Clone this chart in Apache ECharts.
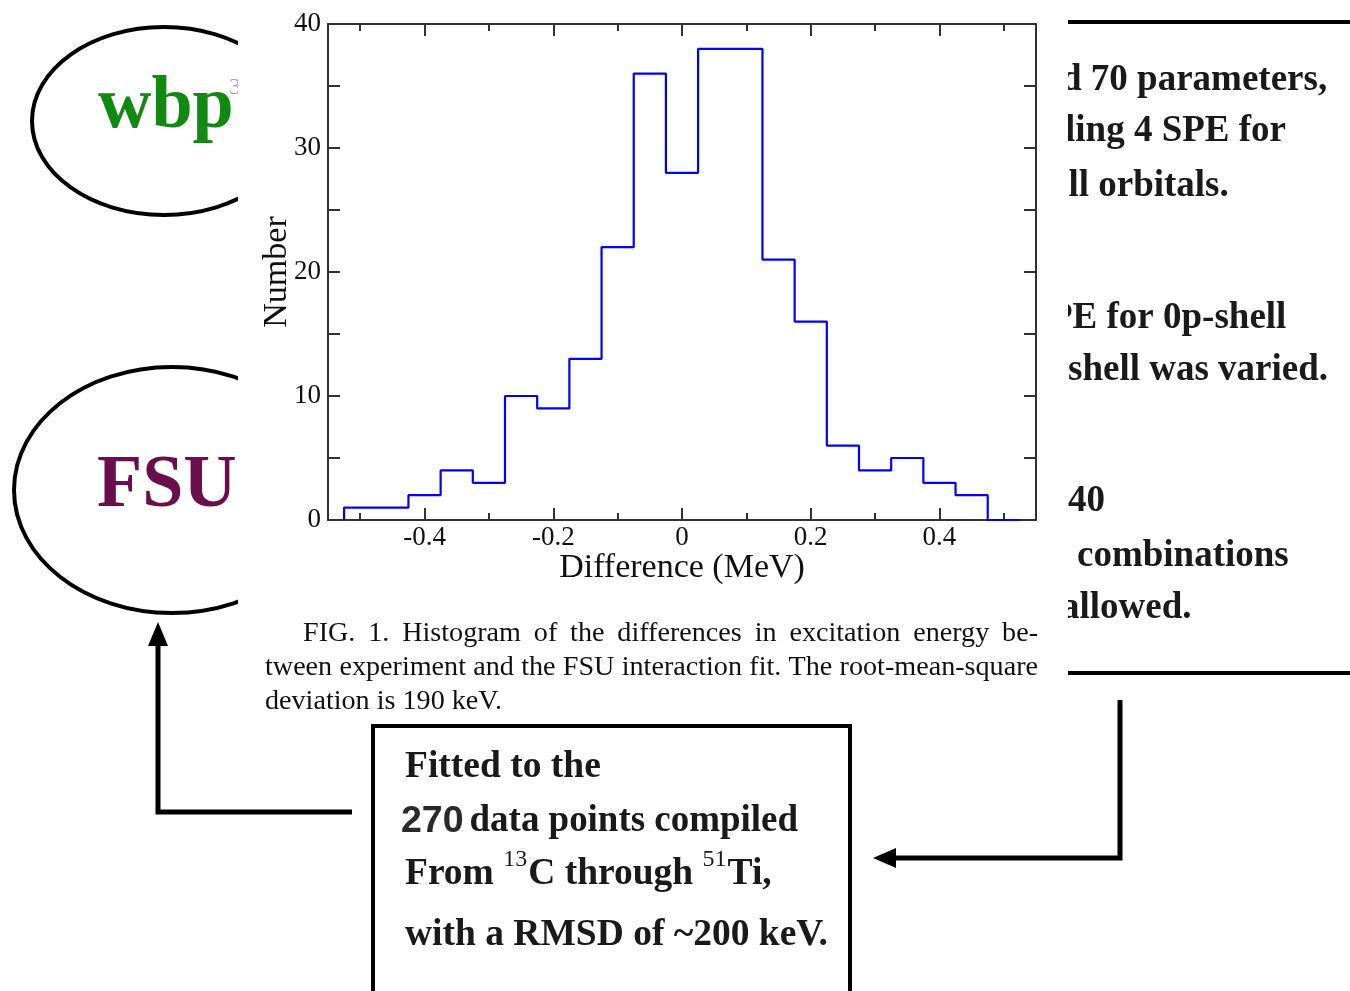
<!DOCTYPE html>
<html>
<head>
<meta charset="utf-8">
<script src="https://cdn.jsdelivr.net/npm/echarts@6/dist/echarts.min.js"></script>
<style>
html,body{margin:0;padding:0;background:#fff;}
#chart{width:1350px;height:991px;}
</style>
</head>
<body>
<div id="chart"></div>
<script>
// ---- data ----
const binLeftEdges = [-0.525,-0.475,-0.425,-0.375,-0.325,-0.275,-0.225,-0.175,-0.125,-0.075,-0.025,0.025,0.075,0.125,0.175,0.225,0.275,0.325,0.375,0.425,0.475];
const binCounts    = [1,1,2,4,3,10,9,13,22,36,28,38,38,21,16,6,4,5,3,2,0];
const lastBinRightEdge = 0.525;
const xMajorTicks = [-0.4,-0.2,0,0.2,0.4];
const xMinorTicks = [-0.5,-0.3,-0.1,0.1,0.3,0.5];
const xAxisName = 'Difference (MeV)';
const yAxisName = 'Number';
const captionLines = [
  'FIG. 1. Histogram of the differences in excitation energy be-',
  'tween experiment and the FSU interaction fit. The root-mean-square',
  'deviation is 190 keV.'
];
const rightTexts = ['d 70 parameters,','ling 4 SPE for','ell orbitals.','PE for 0p-shell','shell was varied.','40','combinations','allowed.'];

// ---- helpers ----
const SERIF = "'Liberation Serif','Times New Roman',serif";
const SANS = "'Liberation Sans',Arial,sans-serif";
const cv = document.createElement('canvas').getContext('2d');
function measure(text, weight, size, family){ cv.font = weight + ' ' + size + 'px ' + family; return cv.measureText(text).width; }
function txt(x, y, text, o){
  o = o || {};
  return {type:'text', x:x, y:y, z:o.z==null?10:o.z, scaleX:o.sx||1,
    style:{text:text, fontFamily:o.family||SERIF, fontSize:o.size||26, fontWeight:o.weight||'normal',
      fill:o.color||'#1a1a1a', align:'left', verticalAlign:'middle'}};
}

const graphics = [];
// left ellipses (behind figure)
graphics.push({type:'ellipse', z:-10, shape:{cx:164, cy:121, rx:132, ry:94}, style:{fill:'none', stroke:'#000', lineWidth:4}});
graphics.push({type:'ellipse', z:-10, shape:{cx:172, cy:490, rx:158, ry:123}, style:{fill:'none', stroke:'#000', lineWidth:4}});
graphics.push(txt(98, 108, 'wbp', {size:74, weight:'bold', color:'#128a12', z:-9}));
graphics.push(txt(229, 88, '3', {size:24, color:'#aaaaaa', z:-9}));
graphics.push(txt(97, 487, 'FSU', {size:74, weight:'bold', color:'#6b0f4c', z:-9}));
// right side text block
const rightX = [1061,1065,1052,1050,1068,1068,1077,1061];
const rightY = [80,131,186,318,370,501,556,608];
rightTexts.forEach((t,i)=>graphics.push(txt(rightX[i], rightY[i], t, {size:37, weight:'bold', z:-9})));
graphics.push({type:'line', z:-9, shape:{x1:1060,y1:22,x2:1350,y2:22}, style:{stroke:'#000', lineWidth:4}});
graphics.push({type:'line', z:-9, shape:{x1:1060,y1:673,x2:1350,y2:673}, style:{stroke:'#000', lineWidth:4}});
// white figure background that clips the slide items
graphics.push({type:'rect', z:-5, shape:{x:238, y:0, width:830, height:716}, style:{fill:'#fff'}});

// caption (justified)
(function(){
  const fs = 28;
  const lay = [{x0:303,x1:1038,y:634,j:true},{x0:265,x1:1038,y:668,j:true},{x0:265,x1:502,y:702,j:false}];
  const sp = measure(' ','normal',fs,SERIF);
  const nat3 = measure(captionLines[2],'normal',fs,SERIF);
  const baseSx = (lay[2].x1-lay[2].x0)/nat3;
  captionLines.forEach((line,i)=>{
    const L = lay[i];
    const words = line.split(' ');
    const ws = words.map(w=>measure(w,'normal',fs,SERIF));
    const sum = ws.reduce((a,b)=>a+b,0);
    const target = L.x1-L.x0;
    let sx = baseSx, gap = sp*sx;
    if (L.j) {
      gap = (target - sum*sx)/(words.length-1);
      if (gap < sp*sx*0.7) { sx = target/(sum + sp*0.7*(words.length-1)); gap = sp*sx*0.7; }
    }
    let x = L.x0;
    words.forEach((w,k)=>{ graphics.push(txt(x, L.y, w, {size:fs, sx:sx, color:'#111'})); x += ws[k]*sx + gap; });
  });
})();

// box with text
graphics.push({type:'rect', z:10, shape:{x:373, y:726, width:477, height:290}, style:{fill:'none', stroke:'#000', lineWidth:4}});
(function(){
  const fs = 37.5, sfs = 24;
  const mid = b => b - 0.34*fs + 2;
  graphics.push(txt(405, mid(778), 'Fitted to the', {size:fs, weight:'bold'}));
  const w270 = measure('270','bold',fs,SANS);
  graphics.push(txt(401, mid(832), '270', {size:fs, weight:'bold', family:SANS, color:'#2a2a2a'}));
  graphics.push(txt(401 + w270 + 6, mid(832), 'data points compiled', {size:fs, weight:'bold', sx:0.985}));
  // From 13C through 51Ti,
  let x = 405; const b3 = 885;
  const parts = [['From ',0],['13',1],['C through ',0],['51',1],['Ti,',0]];
  parts.forEach(p=>{
    if (p[1]) { graphics.push(txt(x, 868 - 0.34*sfs, p[0], {size:sfs, weight:'normal'})); x += measure(p[0],'normal',sfs,SERIF) + 1; }
    else { graphics.push(txt(x, mid(b3), p[0], {size:fs, weight:'bold'})); x += measure(p[0],'bold',fs,SERIF); }
  });
  graphics.push(txt(405, mid(946), 'with a RMSD of ~200 keV.', {size:fs, weight:'bold'}));
})();

// arrows
graphics.push({type:'polyline', z:10, shape:{points:[[158,640],[158,812],[352,812]]}, style:{fill:'none', stroke:'#000', lineWidth:5}});
graphics.push({type:'polygon', z:10, shape:{points:[[158,622],[148,646],[168,646]]}, style:{fill:'#000'}});
graphics.push({type:'polyline', z:10, shape:{points:[[1120,700],[1120,858],[892,858]]}, style:{fill:'none', stroke:'#000', lineWidth:5}});
graphics.push({type:'polygon', z:10, shape:{points:[[873,858],[896,848],[896,868]]}, style:{fill:'#000'}});

// ---- histogram series data built from bins ----
const stepData = [[binLeftEdges[0], 0]];
binLeftEdges.forEach((x,i)=>stepData.push([x, binCounts[i]]));
stepData.push([lastBinRightEdge, 0]);

const axisColor = '#333';
const labelFont = 27;
function xAx(pos, ticks, len, withLabel, withLine, extra){
  return Object.assign({
    type:'value', position:pos, min:-0.55, max:0.55, gridIndex:0,
    axisLine:{show:withLine, onZero:false, lineStyle:{color:axisColor, width:2}},
    axisTick:{show:true, inside:true, length:len, customValues:ticks, lineStyle:{color:axisColor, width:2}},
    axisLabel:withLabel ? {show:true, customValues:ticks, fontFamily:SERIF, fontSize:labelFont, color:'#111', margin:4} : {show:false},
    splitLine:{show:false}
  }, extra||{});
}
function yAx(pos, withLabel, extra){
  return Object.assign({
    type:'value', position:pos, min:0, max:40, interval:10,
    axisLine:{show:true, onZero:false, lineStyle:{color:axisColor, width:2}},
    axisTick:{inside:true, length:12, lineStyle:{color:axisColor, width:2}},
    minorTick:{show:true, splitNumber:2, length:12, lineStyle:{color:axisColor, width:2}},
    axisLabel:withLabel ? {fontFamily:SERIF, fontSize:labelFont, color:'#111', margin:7} : {show:false},
    splitLine:{show:false}, minorSplitLine:{show:false}
  }, extra||{});
}
const chart = echarts.init(document.getElementById('chart'), null, {renderer:'canvas'});
chart.setOption({
  animation:false,
  backgroundColor:'#fff',
  grid:{left:328, top:24, width:708, height:496, containLabel:false},
  xAxis:[
    xAx('bottom', xMajorTicks, 12, true, true, {name:xAxisName, nameLocation:'middle', nameGap:31, nameMoveOverlap:false,
      nameTextStyle:{fontFamily:SERIF, fontSize:34, color:'#111', verticalAlign:'top'}}),
    xAx('bottom', xMinorTicks, 7, false, false),
    xAx('top', xMajorTicks, 12, false, true),
    xAx('top', xMinorTicks, 7, false, false)
  ],
  yAxis:[
    yAx('left', true, {name:yAxisName, nameLocation:'middle', nameGap:34, nameRotate:90, nameMoveOverlap:false,
      nameTextStyle:{fontFamily:SERIF, fontSize:34, color:'#111'}}),
    yAx('right', false)
  ],
  series:[{
    type:'line', xAxisIndex:0, yAxisIndex:0, step:'end', data:stepData,
    showSymbol:false, symbol:'none', z:3,
    lineStyle:{color:'#0000ff', width:2.2}
  }],
  graphic:{elements:graphics}
});
</script>
</body>
</html>
